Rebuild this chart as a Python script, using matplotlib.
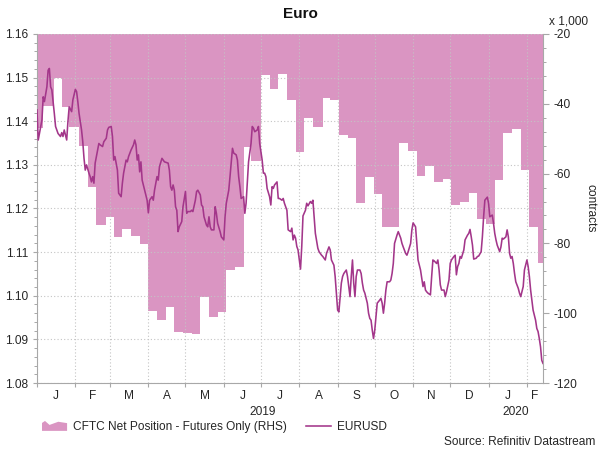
import numpy as np
import pandas as pd
import matplotlib
matplotlib.use("Agg")
import matplotlib.pyplot as plt
import matplotlib.dates as mdates
import matplotlib.transforms as mtransforms
from matplotlib.legend_handler import HandlerBase
from matplotlib.patches import Polygon, Patch
from matplotlib.lines import Line2D
from matplotlib.ticker import MultipleLocator, FixedLocator, NullFormatter, FuncFormatter, FormatStrFormatter

plt.rcParams['font.family'] = ['Liberation Sans', 'DejaVu Sans']
plt.rcParams['axes.unicode_minus'] = False

# ---------------- data ----------------
title = "Euro"
source_text = "Source: Refinitiv Datastream"
cftc_label = "CFTC Net Position - Futures Only (RHS)"
eur_label = "EURUSD"
right_unit = "x 1,000"
right_label = "contracts"

x_start = "2019-01-01"
x_end = "2020-02-14"

# EURUSD: days since 2019-01-01 and rate
eur_base = "2019-01-01"
eur_days = [
    0, 1, 3, 4, 5, 6, 8, 9, 10, 11,
    12, 14, 15, 17, 19, 20, 21, 22, 24, 25,
    26, 28, 29, 31, 32, 33, 34, 35, 36, 37,
    38, 39, 40, 42, 43, 44, 45, 46, 47, 49,
    50, 51, 53, 54, 56, 57, 58, 60, 61, 62,
    63, 65, 66, 67, 68, 69, 70, 72, 73, 74,
    76, 78, 79, 80, 81, 82, 83, 84, 85, 87,
    88, 89, 90, 91, 93, 94, 95, 97, 98, 99,
    101, 102, 103, 106, 107, 108, 109, 110, 111, 112,
    113, 114, 115, 117, 118, 120, 121, 122, 124, 125,
    126, 128, 129, 130, 132, 133, 134, 135, 137, 138,
    139, 140, 141, 143, 144, 145, 146, 148, 149, 151,
    152, 153, 155, 156, 157, 158, 159, 161, 162, 163,
    164, 165, 167, 168, 169, 170, 171, 173, 174, 175,
    176, 178, 179, 180, 182, 183, 184, 185, 186, 188,
    189, 190, 191, 192, 194, 195, 196, 198, 199, 200,
    202, 203, 205, 206, 207, 208, 209, 210, 211, 212,
    213, 214, 215, 217, 218, 219, 221, 222, 223, 224,
    225, 227, 228, 230, 231, 232, 233, 234, 236, 237,
    238, 240, 241, 242, 243, 244, 246, 247, 248, 250,
    251, 252, 253, 254, 255, 256, 257, 258, 259, 261,
    262, 263, 264, 265, 267, 268, 269, 270, 271, 272,
    273, 274, 275, 277, 278, 279, 280, 281, 282, 283,
    285, 286, 287, 288, 289, 291, 292, 294, 295, 296,
    298, 299, 300, 302, 303, 304, 306, 307, 308, 310,
    312, 313, 314, 315, 316, 318, 319, 320, 321, 323,
    324, 325, 326, 327, 329, 330, 331, 333, 334, 335,
    337, 338, 339, 340, 341, 342, 343, 345, 346, 348,
    349, 350, 351, 352, 353, 355, 356, 357, 359, 360,
    361, 362, 364, 365, 366, 368, 369, 370, 371, 372,
    374, 375, 376, 377, 379, 380, 381, 382, 383, 384,
    385, 386, 387, 389, 390, 391, 393, 394, 396, 397,
    398, 399, 400, 401, 403, 404, 405, 406, 407, 408,
    409,
]
eur_values = [
    1.1426, 1.1357, 1.1388, 1.1403, 1.1456, 1.1445, 1.1479, 1.1517, 1.1521, 1.1479,
    1.1472, 1.1418, 1.1388, 1.1372, 1.1365, 1.1374, 1.1365, 1.1380, 1.1357, 1.1399,
    1.1433, 1.1422, 1.1449, 1.1473, 1.1468, 1.1445, 1.1418, 1.1399, 1.1380, 1.1353,
    1.1315, 1.1288, 1.1300, 1.1281, 1.1273, 1.1261, 1.1273, 1.1258, 1.1304, 1.1334,
    1.1349, 1.1346, 1.1342, 1.1353, 1.1361, 1.1380, 1.1386, 1.1388, 1.1365, 1.1311,
    1.1319, 1.1288, 1.1235, 1.1231, 1.1227, 1.1258, 1.1281, 1.1311, 1.1307, 1.1319,
    1.1334, 1.1346, 1.1357, 1.1346, 1.1311, 1.1323, 1.1284, 1.1307, 1.1265, 1.1242,
    1.1231, 1.1219, 1.1190, 1.1219, 1.1227, 1.1219, 1.1242, 1.1273, 1.1265, 1.1296,
    1.1315, 1.1311, 1.1307, 1.1304, 1.1288, 1.1250, 1.1242, 1.1254, 1.1242, 1.1204,
    1.1196, 1.1147, 1.1158, 1.1170, 1.1204, 1.1239, 1.1189, 1.1193, 1.1193, 1.1196,
    1.1193, 1.1219, 1.1239, 1.1242, 1.1231, 1.1208, 1.1204, 1.1181, 1.1162, 1.1158,
    1.1181, 1.1158, 1.1151, 1.1151, 1.1204, 1.1189, 1.1166, 1.1147, 1.1135, 1.1128,
    1.1181, 1.1212, 1.1242, 1.1273, 1.1307, 1.1338, 1.1327, 1.1323, 1.1311, 1.1273,
    1.1250, 1.1223, 1.1227, 1.1189, 1.1212, 1.1258, 1.1307, 1.1349, 1.1388, 1.1384,
    1.1376, 1.1380, 1.1388, 1.1349, 1.1311, 1.1281, 1.1281, 1.1273, 1.1246, 1.1227,
    1.1208, 1.1250, 1.1246, 1.1254, 1.1261, 1.1223, 1.1223, 1.1219, 1.1223, 1.1212,
    1.1196, 1.1151, 1.1147, 1.1155, 1.1128, 1.1139, 1.1132, 1.1113, 1.1105, 1.1082,
    1.1061, 1.1113, 1.1183, 1.1196, 1.1212, 1.1206, 1.1216, 1.1212, 1.1219, 1.1181,
    1.1143, 1.1109, 1.1101, 1.1093, 1.1090, 1.1086, 1.1082, 1.1097, 1.1112, 1.1105,
    1.1082, 1.1070, 1.1044, 1.1006, 1.0967, 1.0963, 1.1029, 1.1044, 1.1051, 1.1059,
    1.1044, 1.1021, 1.0998, 1.1044, 1.1082, 1.1029, 1.0998, 1.1044, 1.1059, 1.1059,
    1.1051, 1.1029, 1.1013, 1.1006, 1.0983, 1.0960, 1.0948, 1.0944, 1.0921, 1.0902,
    1.0921, 1.0952, 1.0983, 1.0990, 1.0994, 1.0983, 1.0960, 1.0983, 1.1013, 1.1032,
    1.1032, 1.1036, 1.1051, 1.1074, 1.1120, 1.1139, 1.1147, 1.1132, 1.1120, 1.1112,
    1.1097, 1.1093, 1.1101, 1.1120, 1.1151, 1.1167, 1.1158, 1.1120, 1.1082, 1.1059,
    1.1021, 1.1032, 1.1013, 1.1009, 1.1006, 1.1002, 1.1044, 1.1082, 1.1080, 1.1074,
    1.1082, 1.1059, 1.1025, 1.1013, 1.1013, 1.0998, 1.1009, 1.1036, 1.1074, 1.1082,
    1.1090, 1.1093, 1.1048, 1.1067, 1.1074, 1.1090, 1.1086, 1.1105, 1.1128, 1.1139,
    1.1143, 1.1152, 1.1135, 1.1116, 1.1084, 1.1086, 1.1090, 1.1091, 1.1101, 1.1135,
    1.1181, 1.1219, 1.1226, 1.1212, 1.1181, 1.1185, 1.1166, 1.1143, 1.1128, 1.1116,
    1.1101, 1.1112, 1.1132, 1.1130, 1.1135, 1.1151, 1.1135, 1.1097, 1.1086, 1.1090,
    1.1074, 1.1051, 1.1032, 1.1017, 1.1006, 1.0998, 1.1021, 1.1059, 1.1082, 1.1067,
    1.1044, 1.1013, 1.0990, 1.0967, 1.0944, 1.0925, 1.0918, 1.0902, 1.0883, 1.0852,
    1.0845,
]

# CFTC net position (thousands of contracts), weekly steps
cftc_dates = [
    '2019-01-01', '2019-01-06', '2019-01-15', '2019-01-21', '2019-01-27',
    '2019-02-04', '2019-02-11', '2019-02-18', '2019-02-26',
    '2019-03-04', '2019-03-11', '2019-03-18', '2019-03-25',
    '2019-04-01', '2019-04-08', '2019-04-15', '2019-04-22', '2019-04-29',
    '2019-05-06', '2019-05-13', '2019-05-20', '2019-05-27',
    '2019-06-03', '2019-06-10', '2019-06-17', '2019-06-23',
    '2019-07-01', '2019-07-08', '2019-07-15', '2019-07-22', '2019-07-29',
    '2019-08-05', '2019-08-12', '2019-08-20', '2019-08-26',
    '2019-09-02', '2019-09-09', '2019-09-16', '2019-09-23', '2019-09-30',
    '2019-10-07', '2019-10-14', '2019-10-21', '2019-10-28',
    '2019-11-04', '2019-11-11', '2019-11-18', '2019-11-25',
    '2019-12-02', '2019-12-09', '2019-12-16', '2019-12-23', '2019-12-30',
    '2020-01-06', '2020-01-13', '2020-01-20', '2020-01-27',
    '2020-02-03', '2020-02-10',
]
cftc_values = [
    -46.8, -40.6, -32.7, -41.0, -46.6,
    -52.0, -63.9, -74.8, -72.5,
    -78.1, -75.9, -77.9, -80.3,
    -99.3, -102.0, -98.1, -105.5, -105.7,
    -106.1, -95.3, -101.1, -99.6,
    -87.6, -86.9, -52.3, -56.3,
    -31.7, -35.9, -31.5, -39.0, -53.9,
    -44.2, -46.7, -38.3, -38.8,
    -49.0, -49.8, -68.5, -60.9, -65.9,
    -75.4, -75.2, -51.2, -53.4,
    -60.6, -57.7, -62.4, -61.5,
    -69.1, -68.2, -65.6, -73.0, -74.3,
    -61.8, -48.5, -47.2, -59.0,
    -75.2, -85.7,
]

assert len(eur_days) == len(eur_values)
assert len(cftc_dates) == len(cftc_values)

# ---------------- style ----------------
pink = '#DA95C2'
line_col = '#A3368A'
axis_col = '#A8A8A8'
text_col = '#262626'
grid_col = '#C4C4C4'
fs = 8.6

fig = plt.figure(figsize=(6, 4.5), dpi=100)
ax = fig.add_axes([37 / 600, 1 - 383 / 450, 506 / 600, 349 / 450])
ax2 = ax.twinx()
ax.set_zorder(ax2.get_zorder() + 1)
ax.patch.set_visible(False)

# CFTC area (RHS)
c_dates = pd.to_datetime(cftc_dates + [x_end])
c_vals = np.array(cftc_values + [cftc_values[-1]])
ax2.fill_between(c_dates, c_vals, 0, step='post', color=pink, linewidth=0)
ax2.set_ylim(-120, -20)
ax2.yaxis.set_major_locator(MultipleLocator(20))
ax2.yaxis.set_minor_locator(MultipleLocator(4))
ax2.tick_params(axis='y', which='major', length=4, width=0.8, color=axis_col,
                labelsize=fs, labelcolor=text_col, pad=3.5, direction='out')
ax2.tick_params(axis='y', which='minor', length=2.2, width=0.7, color=axis_col, direction='out')

# EURUSD line (LHS)
e_dates = pd.Timestamp(eur_base) + pd.to_timedelta(eur_days, unit='D')
ax.plot(e_dates, eur_values, color=line_col, lw=1.15, zorder=3)
ax.set_ylim(1.08, 1.16)
ax.yaxis.set_major_locator(MultipleLocator(0.01))
ax.yaxis.set_minor_locator(MultipleLocator(0.002))
ax.yaxis.set_major_formatter(FormatStrFormatter('%.2f'))
ax.tick_params(axis='y', which='major', length=3, width=0.8, color=axis_col,
               labelsize=fs, labelcolor=text_col, pad=3.5, direction='out')
ax.tick_params(axis='y', which='minor', length=2.2, width=0.7, color=axis_col, direction='out')

# x axis
x0 = pd.Timestamp(x_start)
x1 = pd.Timestamp(x_end)
ax.set_xlim(x0, x1)
ax.xaxis.set_major_locator(mdates.MonthLocator())
ax.xaxis.set_major_formatter(NullFormatter())
months = pd.date_range(x0.to_period('M').to_timestamp(), x1, freq='MS')
centers = []
for m in months:
    a = max(m, x0)
    b = min(m + pd.offsets.MonthBegin(1), x1)
    centers.append(mdates.date2num(a + (b - a) / 2))
ax.xaxis.set_minor_locator(FixedLocator(centers))
ax.xaxis.set_minor_formatter(FuncFormatter(lambda v, p: mdates.num2date(v).strftime('%b')[0]))
ax.tick_params(axis='x', which='major', length=3, width=0.8, color=axis_col, direction='out')
ax.tick_params(axis='x', which='minor', length=0, labelsize=fs, labelcolor=text_col, pad=5)

# year labels centred on visible span of each year
trans = mtransforms.blended_transform_factory(ax.transData, ax.transAxes)
for yr in range(x0.year, x1.year + 1):
    a = max(pd.Timestamp(f'{yr}-01-01'), x0)
    b = min(pd.Timestamp(f'{yr + 1}-01-01'), x1)
    ax.text(a + (b - a) / 2, -0.083, str(yr), transform=trans, ha='center', va='center',
            fontsize=fs, color=text_col)

# grid
ax.grid(True, which='major', axis='both', linestyle=(0, (1, 2)), color=grid_col, linewidth=0.8)
ax.set_axisbelow(True)

# spines
for a in (ax, ax2):
    a.spines['top'].set_visible(False)
ax.spines['right'].set_visible(False)
ax2.spines['left'].set_visible(False)
ax.spines['left'].set_color(axis_col)
ax.spines['bottom'].set_color(axis_col)
ax2.spines['right'].set_color(axis_col)
ax2.spines['bottom'].set_visible(False)

# texts
fig.text(0.5, 1 - 14 / 450, title, ha='center', va='center', fontsize=11, fontweight='bold', color='#111111')
fig.text(549 / 600, 1 - 21 / 450, right_unit, ha='left', va='center', fontsize=fs, color=text_col)
fig.text(590 / 600, 1 - 208 / 450, right_label, rotation=270, ha='center', va='center', fontsize=fs, color=text_col)
fig.text(595 / 600, 1 - 442 / 450, source_text, ha='right', va='center', fontsize=fs, color=text_col)


# legend
class AreaHandler(HandlerBase):
    def create_artists(self, legend, orig_handle, xdescent, ydescent, width, height, fontsize, trans):
        shape = [(0, 0), (0, 0.8), (0.12, 1.0), (0.3, 0.6), (0.65, 0.92), (1, 0.78), (1, 0)]
        pts = [(-xdescent + sx * width, -ydescent + sy * height) for sx, sy in shape]
        p = Polygon(pts, closed=True, facecolor=orig_handle.get_facecolor(), edgecolor='none', transform=trans)
        return [p]


area_handle = Patch(facecolor=pink)
line_handle = Line2D([], [], color=line_col, lw=1.15)
leg = fig.legend([area_handle, line_handle], [cftc_label, eur_label],
                 handler_map={Patch: AreaHandler()},
                 loc='center left', bbox_to_anchor=(42 / 600, 1 - 427 / 450), ncol=2,
                 frameon=False, fontsize=fs, handlelength=2.1, handleheight=0.9,
                 handletextpad=0.5, columnspacing=1.6, borderpad=0, borderaxespad=0)
for t in leg.get_texts():
    t.set_color(text_col)

fig.savefig('out.png', dpi=100)
